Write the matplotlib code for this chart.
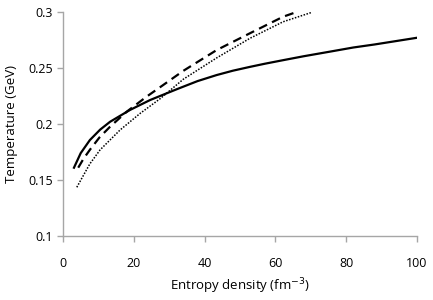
import matplotlib
matplotlib.use("Agg")
import matplotlib.pyplot as plt

# values
solid_s = [3.1, 5.0, 7.6, 10.5, 13.3, 18.9, 24.6, 32.1, 38.0, 43.4, 48.0, 52.8, 57.0, 62.2, 68.0, 75.4, 82.0, 88.0, 94.0, 100.0]
solid_T = [0.161, 0.174, 0.1857, 0.195, 0.202, 0.2125, 0.2214, 0.231, 0.2383, 0.2437, 0.2476, 0.251, 0.2538, 0.257, 0.2605, 0.2646, 0.2683, 0.271, 0.274, 0.277]

dash_s = [4.3, 5.8, 7.6, 10.3, 13.3, 18.0, 23.6, 28.3, 34.0, 43.4, 52.8, 62.2, 66.0]
dash_T = [0.161, 0.169, 0.177, 0.188, 0.1976, 0.211, 0.2244, 0.2348, 0.2475, 0.266, 0.281, 0.2958, 0.300]

dot_s = [3.9, 5.3, 7.6, 10.5, 16.1, 21.8, 27.4, 34.0, 43.4, 52.8, 62.2, 70.3]
dot_T = [0.1435, 0.1515, 0.1645, 0.177, 0.1946, 0.2095, 0.2225, 0.240, 0.259, 0.2765, 0.2913, 0.2997]

xticks = [0, 20, 40, 60, 80, 100]
yticks = [0.1, 0.15, 0.2, 0.25, 0.3]
ytick_labels = ["0.1", "0.15", "0.2", "0.25", "0.3"]

plt.rcParams['font.family'] = ['Open Sans', 'DejaVu Sans']

fig = plt.figure(figsize=(4.33, 3.0), dpi=100)
ax = fig.add_axes([0.1455, 0.2133, 0.8175, 0.7467])

ax.plot(solid_s, solid_T, color='black', lw=1.6, linestyle='-')
ax.plot(dash_s, dash_T, color='black', lw=1.6, linestyle=(0, (4, 2.5)))
ax.plot(dot_s, dot_T, color='black', lw=1.1, linestyle=(0, (1, 1)))

ax.set_xlim(0, 100)
ax.set_ylim(0.1, 0.3)
ax.set_xticks(xticks)
ax.set_yticks(yticks)
ax.set_yticklabels(ytick_labels)

for side in ['top', 'right']:
    ax.spines[side].set_visible(False)
for side in ['left', 'bottom']:
    ax.spines[side].set_color('#a6a6a6')
    ax.spines[side].set_linewidth(1.0)
ax.tick_params(axis='both', colors='#a6a6a6', labelcolor='black', labelsize=9, length=4, width=1.0)
ax.tick_params(axis='x', pad=11)

ax.set_xlabel('Entropy density (fm$^{-3}$)', fontsize=9.5, labelpad=5)
ax.set_ylabel('Temperature (GeV)', fontsize=9.5, labelpad=7)

fig.savefig('out.png', dpi=100)
